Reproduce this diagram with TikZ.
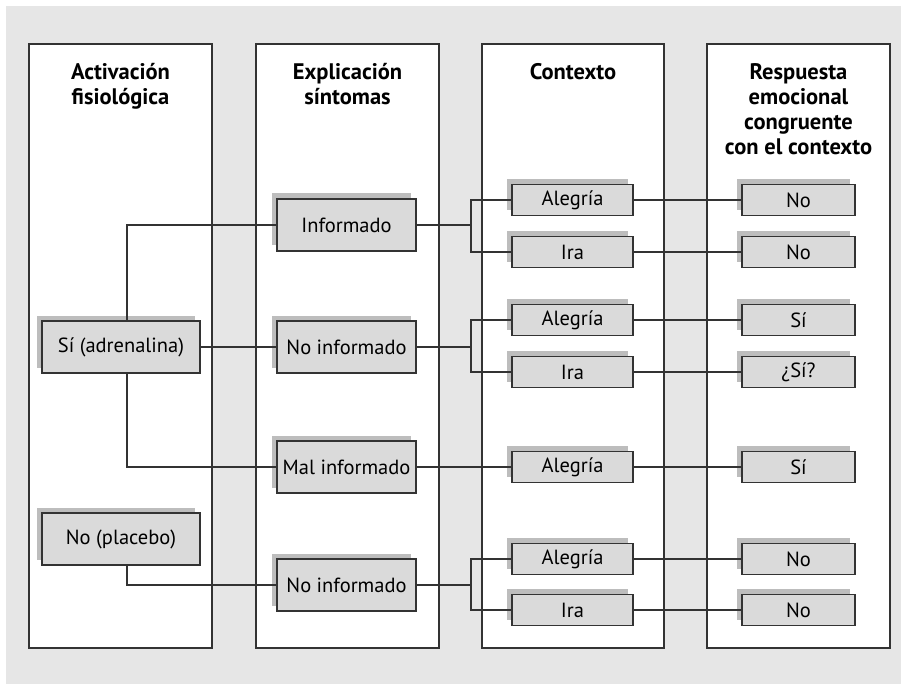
\documentclass[tikz,border=0pt]{standalone}
\usepackage{fontspec}
\setmainfont{PT Sans}
\usetikzlibrary{shadows}
\definecolor{bggray}{HTML}{E6E6E6}
\definecolor{boxfill}{HTML}{DADADA}
\definecolor{shadowgray}{HTML}{BDBDBD}
\definecolor{linecol}{HTML}{333333}
\begin{document}
\begin{tikzpicture}[x=1pt,y=-1pt,
  colbox/.style={draw=linecol,fill=white,line width=1.1pt},
  header/.style={font=\bfseries\fontsize{22.5}{25}\selectfont,align=center,anchor=north,inner sep=0pt},
  boxbase/.style={draw=linecol,fill=boxfill,line width=1.1pt,inner sep=0pt,
    font=\fontsize{20.5}{23}\selectfont,
    general shadow={fill=shadowgray,draw=none,shadow xshift=-5.5pt,shadow yshift=5.5pt}},
  bigbox/.style={boxbase,minimum width=158pt,minimum height=52pt},
  midbox/.style={boxbase,minimum width=139pt,minimum height=52pt},
  smallbox/.style={boxbase,minimum width=121pt,minimum height=31pt},
  ansbox/.style={boxbase,minimum width=113pt,minimum height=31pt},
  conn/.style={draw=linecol,line width=1.1pt}]
\useasboundingbox (0,0) rectangle (901,684);
\fill[bggray] (6,6) rectangle (901,684);
% columns
\draw[colbox] (29,44) rectangle (212,648);
\draw[colbox] (256,44) rectangle (439,648);
\draw[colbox] (482,44) rectangle (664,648);
\draw[colbox] (707,44) rectangle (890,648);
% headers
\node[header] (h1) at (120.5,62) {\strut Activación\\fisiológica};
\node[header] (h2) at (347.5,62) {\strut Explicación\\síntomas};
\node[header] (h3) at (573,62) {\strut Contexto};
\node[header] (h4) at (798.5,62) {\strut Respuesta\\emocional\\congruente\\con el contexto};
% column 1
\node[bigbox] (si) at (121,347) {Sí (adrenalina)};
\node[bigbox] (pl) at (121,539) {No (placebo)};
% column 2
\node[midbox] (inf) at (346.5,225) {Informado};
\node[midbox] (ni1) at (346.5,347) {No informado};
\node[midbox] (mal) at (346.5,467) {Mal informado};
\node[midbox] (ni2) at (346.5,585) {No informado};
% column 3
\node[smallbox] (a1) at (572.5,200) {Alegría};
\node[smallbox] (i1) at (572.5,252) {Ira};
\node[smallbox] (a2) at (572.5,320) {Alegría};
\node[smallbox] (i2) at (572.5,372) {Ira};
\node[smallbox] (a3) at (572.5,467) {Alegría};
\node[smallbox] (a4) at (572.5,559) {Alegría};
\node[smallbox] (i4) at (572.5,610) {Ira};
% column 4
\node[ansbox] (r1) at (798.5,200) {No};
\node[ansbox] (r2) at (798.5,252) {No};
\node[ansbox] (r3) at (798.5,320) {Sí};
\node[ansbox] (r4) at (798.5,372) {¿Sí?};
\node[ansbox] (r5) at (798.5,467) {Sí};
\node[ansbox] (r6) at (798.5,559) {No};
\node[ansbox] (r7) at (798.5,610) {No};
% bracket points
\coordinate (b1) at (471,225);
\coordinate (b2) at (471,347);
\coordinate (b4) at (471,585);
% connectors col1 -> col2
\draw[conn] ([xshift=6pt]si.north) |- (inf.west);
\draw[conn] (si.east) -- (ni1.west);
\draw[conn] ([xshift=6pt]si.south) |- (mal.west);
\draw[conn] ([xshift=6pt]pl.south) |- (ni2.west);
% col2 -> col3
\draw[conn] (inf.east) -- (b1);
\draw[conn] (a1.west) -| (b1) |- (i1.west);
\draw[conn] (ni1.east) -- (b2);
\draw[conn] (a2.west) -| (b2) |- (i2.west);
\draw[conn] (mal.east) -- (a3.west);
\draw[conn] (ni2.east) -- (b4);
\draw[conn] (a4.west) -| (b4) |- (i4.west);
% col3 -> col4
\draw[conn] (a1.east) -- (r1.west);
\draw[conn] (i1.east) -- (r2.west);
\draw[conn] (a2.east) -- (r3.west);
\draw[conn] (i2.east) -- (r4.west);
\draw[conn] (a3.east) -- (r5.west);
\draw[conn] (a4.east) -- (r6.west);
\draw[conn] (i4.east) -- (r7.west);
\end{tikzpicture}
\end{document}
